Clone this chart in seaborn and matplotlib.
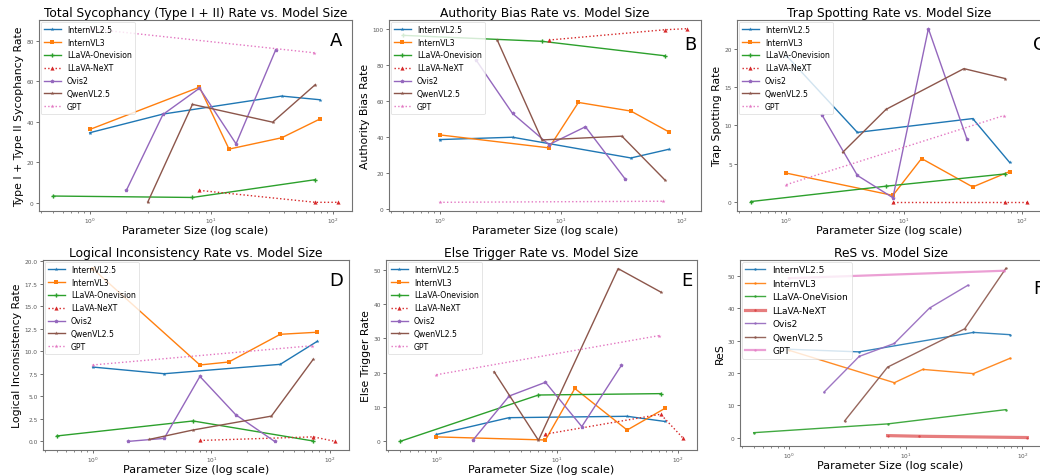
import matplotlib
matplotlib.use("Agg")
import matplotlib.pyplot as plt
import seaborn as sns
import pandas as pd

# ---- model sizes (billions of parameters) ----
X_INTERNVL25 = [1, 4, 38, 78]
X_INTERNVL3 = [1, 8, 14, 38, 78]
X_LLAVA_OV = [0.5, 7, 72]
X_LLAVA_NEXT = [8, 72, 110]
X_LLAVA_NEXT_RES = [7, 13, 110]
X_OVIS2 = [2, 4, 8, 16, 34]
X_QWEN = [3, 7, 32, 72]
X_GPT = [1, 70]

SERIES = ["InternVL2.5", "InternVL3", "LLaVA-Onevision", "LLaVA-NeXT", "Ovis2", "QwenVL2.5", "GPT"]
SERIES_RES = ["InternVL2.5", "InternVL3", "LLaVA-OneVision", "LLaVA-NeXT", "Ovis2", "QwenVL2.5", "GPT"]

# ---- A: total sycophancy ----
A_I25 = [34.6, 43.8, 52.7, 50.9]
A_I3 = [36.2, 57.1, 26.5, 32.1, 41.3]
A_OV = [3.3, 2.6, 11.4]
A_NX = [6.1, 0.2, 0.2]
A_OVIS = [6.1, 43.6, 56.6, 29.1, 75.7]
A_QW = [0.3, 48.6, 39.8, 58.4]
A_GPT = [86.0, 74.1]

# ---- B: authority bias ----
B_I25 = [38.5, 39.8, 28.3, 33.1]
B_I3 = [41.1, 33.9, 59.1, 54.3, 42.8]
B_OV = [96.3, 93.0, 85.0]
B_NX = [93.7, 99.4, 100.0]
B_OVIS = [82.6, 53.0, 35.7, 45.6, 16.7]
B_QW = [93.5, 38.3, 40.4, 16.3]
B_GPT = [3.7, 4.3]

# ---- C: trap spotting ----
C_I25 = [19.1, 9.1, 10.9, 5.2]
C_I3 = [3.8, 0.9, 5.7, 2.0, 4.0]
C_OV = [0.1, 2.1, 3.7]
C_NX = [0.0, 0.0, 0.0]
C_OVIS = [11.4, 3.5, 0.6, 22.6, 8.2]
C_QW = [6.5, 12.1, 17.4, 16.1]
C_GPT = [2.3, 11.3]

# ---- D: logical inconsistency ----
D_I25 = [8.24, 7.5, 8.54, 11.1]
D_I3 = [19.15, 8.47, 8.8, 11.87, 12.1]
D_OV = [0.6, 2.26, 0.04]
D_NX = [0.1, 0.5, 0.0]
D_OVIS = [0.0, 0.33, 7.2, 2.96, 0.0]
D_QW = [0.22, 1.26, 2.8, 9.1]
D_GPT = [8.47, 10.6]

# ---- E: else trigger ----
E_I25 = [2.0, 6.9, 7.3, 5.8]
E_I3 = [1.3, 0.4, 15.4, 3.3, 9.6]
E_OV = [0.0, 13.5, 13.9]
E_NX = [2.1, 7.9, 1.0]
E_OVIS = [0.3, 13.2, 17.2, 4.3, 22.1]
E_QW = [20.3, 0.3, 50.3, 43.5]
E_GPT = [19.4, 30.8]

# ---- F: ReS ----
F_I25 = [27.3, 26.5, 32.5, 31.8]
F_I3 = [27.0, 17.0, 21.1, 19.8, 24.5]
F_OV = [1.6, 4.3, 8.7]
F_NX = [0.7, 0.5, 0.1]
F_OVIS = [14.1, 25.1, 29.1, 40.0, 47.0]
F_QW = [5.2, 21.8, 33.6, 52.2]
F_GPT = [49.2, 51.5]

TITLES = ["Total Sycophancy (Type I + II) Rate vs. Model Size",
          "Authority Bias Rate vs. Model Size",
          "Trap Spotting Rate vs. Model Size",
          "Logical Inconsistency Rate vs. Model Size",
          "Else Trigger Rate vs. Model Size",
          "ReS vs. Model Size"]
YLABELS = ["Type I + Type II Sycophancy Rate", "Authority Bias Rate", "Trap Spotting Rate",
           "Logical Inconsistency Rate", "Else Trigger Rate", "ReS"]
LETTERS = ["A", "B", "C", "D", "E", "F"]

PANEL_DATA = [
    [A_I25, A_I3, A_OV, A_NX, A_OVIS, A_QW, A_GPT],
    [B_I25, B_I3, B_OV, B_NX, B_OVIS, B_QW, B_GPT],
    [C_I25, C_I3, C_OV, C_NX, C_OVIS, C_QW, C_GPT],
    [D_I25, D_I3, D_OV, D_NX, D_OVIS, D_QW, D_GPT],
    [E_I25, E_I3, E_OV, E_NX, E_OVIS, E_QW, E_GPT],
    [F_I25, F_I3, F_OV, F_NX, F_OVIS, F_QW, F_GPT],
]
XS = [X_INTERNVL25, X_INTERNVL3, X_LLAVA_OV, X_LLAVA_NEXT, X_OVIS2, X_QWEN, X_GPT]
XS_RES = [X_INTERNVL25, X_INTERNVL3, X_LLAVA_OV, X_LLAVA_NEXT_RES, X_OVIS2, X_QWEN, X_GPT]

COLORS = sns.color_palette("tab10", 7)
MARKERS = ["*", "s", "P", "^", "p", "*", "*"]
STYLES = ["-", "-", "-", ":", "-", "-", ":"]

W, H = 1040, 477
# axes boxes in pixels: left, top, right, bottom
BOXES = [(39, 21, 352, 212), (389, 21, 701, 212), (737, 21, 1041, 212),
         (43, 261, 349, 451), (386, 261, 697, 451), (740, 261, 1041, 447)]
# letter anchor (axes fraction) and horizontal alignment
LETTER_POS = [(0.968, 0.94, "right"), (0.985, 0.92, "right"), (0.975, 0.92, "left"),
              (0.98, 0.94, "right"), (0.985, 0.94, "right"), (0.975, 0.90, "left")]

fig = plt.figure(figsize=(W / 100, H / 100), dpi=100)

for p in range(6):
    l, t, r, b = BOXES[p]
    ax = fig.add_axes([l / W, (H - b) / H, (r - l) / W, (b - t) / H])
    res = (p == 5)
    xs = XS_RES if res else XS
    names = SERIES_RES if res else SERIES
    for k in range(7):
        df = pd.DataFrame({"x": xs[k], "y": PANEL_DATA[p][k]})
        if res:
            lw = {3: 2.3, 6: 1.6}.get(k, 1.0)
            alpha = {3: 0.6, 6: 0.7}.get(k, 0.9)
            sns.lineplot(data=df, x="x", y="y", ax=ax, color=COLORS[k], marker=".",
                         markersize=3.5, markeredgewidth=0, linewidth=lw, alpha=alpha,
                         label=names[k])
        else:
            ms = 3.2 if k == 1 else 3.0
            sns.lineplot(data=df, x="x", y="y", ax=ax, color=COLORS[k], marker=MARKERS[k],
                         markersize=ms, markeredgewidth=0, linewidth=1.0,
                         linestyle=STYLES[k], label=names[k])
    ax.set_xscale("log")
    ax.set_title(TITLES[p], fontsize=8.8, pad=3)
    ax.set_xlabel("Parameter Size (log scale)", fontsize=8, labelpad=0)
    ax.set_ylabel(YLABELS[p], fontsize=7.8, labelpad=2)
    ax.tick_params(axis="both", which="major", labelsize=4.2, length=2.5, width=0.6,
                   pad=1.2, colors="0.35")
    ax.tick_params(axis="both", which="minor", length=1.5, width=0.5, colors="0.35")
    for s in ax.spines.values():
        s.set_color("0.45")
        s.set_linewidth(0.8)
    leg = ax.legend(loc="upper left", fontsize=5.6 if not res else 6.5, frameon=True,
                    handlelength=2.2, borderpad=0.4, labelspacing=0.5,
                    borderaxespad=0.2, framealpha=0.8)
    leg.get_frame().set_edgecolor("0.85")
    leg.get_frame().set_linewidth(0.6)
    lx, ly, ha = LETTER_POS[p]
    ax.text(lx, ly, LETTERS[p], transform=ax.transAxes, ha=ha, va="top",
            fontsize=13, color="black", clip_on=False)

fig.savefig("out.png", dpi=100)
